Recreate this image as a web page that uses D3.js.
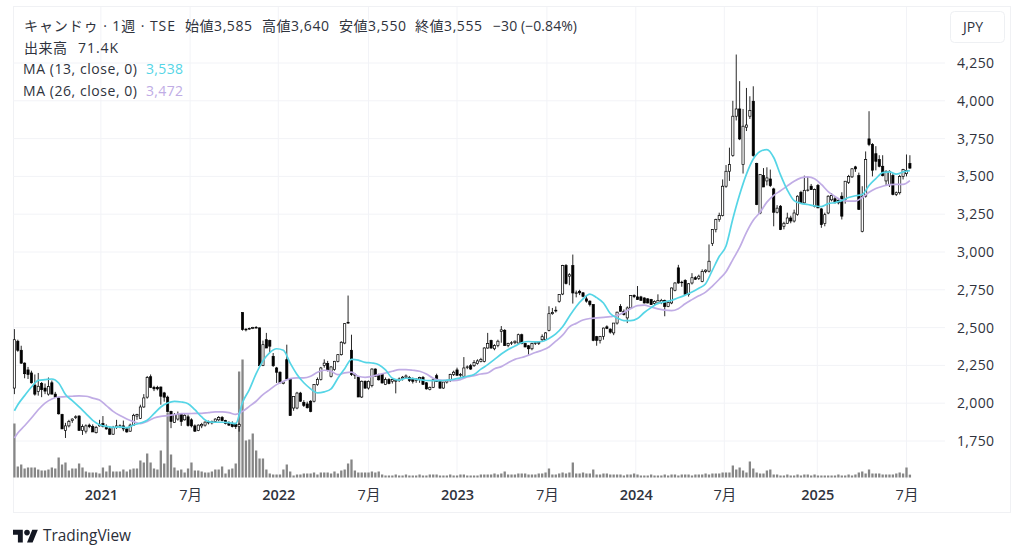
<!DOCTYPE html>
<html lang="ja"><head><meta charset="utf-8">
<script src="https://cdnjs.cloudflare.com/ajax/libs/d3/7.8.5/d3.min.js"></script>
<style>
html,body{margin:0;padding:0;background:#fff}
svg{display:block}
text{font-family:"Open Sans","Noto Sans CJK JP",sans-serif}
</style></head><body>
<svg id="c" width="1024" height="558"></svg>
<script>
const priceTicks=[1750,2000,2250,2500,2750,3000,3250,3500,3750,4000,4250];
const timeTickWeeks=[25.4,51.6,77.5,104,130,156.4,182.5,208.5,235.8,262];
const timeTickLabels=["2021","7月","2022","7月","2023","7月","2024","7月","2025","7月"];
const opens=[2100,2410,2350,2265,2220,2200,2120,2078,2130,2100,
2060,2135,2060,2035,1925,1820,1850,1885,1905,1915,
1820,1815,1855,1845,1805,1850,1865,1845,1830,1795,
1840,1850,1850,1830,1815,1855,1915,1900,1975,2040,
2175,2105,2105,2107,2068,2040,1946,1873,1895,1925,
1890,1910,1890,1850,1820,1850,1855,1875,1870,1880,
1890,1905,1885,1870,1860,1860,1845,2600,2490,2490,
2495,2500,2498,2250,2420,2414,2310,2233,2205,2130,
2288,2160,1968,1968,2067,2005,1995,2013,2013,2123,
2156,2250,2262,2178,2222,2277,2321,2398,2530,2350,
2190,2173,2041,2145,2100,2116,2226,2185,2189,2123,
2156,2145,2145,2150,2165,2172,2170,2160,2150,2160,
2170,2135,2090,2105,2182,2145,2100,2140,2155,2190,
2220,2185,2178,2238,2248,2248,2262,2275,2277,2365,
2414,2360,2381,2475,2482,2381,2400,2400,2398,2453,
2394,2380,2360,2395,2395,2420,2420,2482,2592,2610,
2674,2722,2910,2840,2910,2730,2740,2730,2690,2675,
2652,2440,2416,2442,2505,2490,2465,2530,2640,2608,
2564,2630,2712,2703,2703,2696,2690,2685,2660,2663,
2667,2680,2640,2663,2747,2895,2800,2812,2718,2795,
2830,2825,2806,2872,2873,3056,3148,3215,3241,3435,
3534,3638,3898,3946,3578,3825,3898,3997,3585,3258,
3505,3470,3483,3417,3263,3303,3170,3190,3225,3205,
3248,3395,3325,3408,3435,3303,3440,3285,3188,3258,
3345,3352,3342,3369,3347,3461,3497,3563,3505,3137,
3369,3748,3711,3650,3611,3567,3470,3446,3505,3380,
3392,3500,3518,3585];
const highs=[2490,2420,2380,2270,2240,2215,2190,2200,2140,2130,
2170,2150,2075,2040,1930,1870,1890,1900,1920,1920,
1860,1860,1865,1860,1850,1890,1915,1860,1845,1850,
1890,1860,1885,1835,1865,1930,1930,1990,2060,2180,
2190,2115,2115,2110,2075,2050,1950,1935,1945,1935,
1930,1925,1900,1860,1860,1870,1880,1885,1885,1900,
1915,1915,1890,1880,1880,1870,1870,2600,2495,2500,
2505,2510,2500,2414,2465,2420,2332,2240,2210,2145,
2387,2165,2045,2075,2075,2020,2010,2020,2125,2170,
2240,2290,2280,2245,2280,2325,2410,2530,2712,2453,
2200,2175,2150,2150,2150,2230,2230,2195,2195,2170,
2165,2160,2155,2170,2180,2190,2180,2170,2165,2175,
2180,2140,2110,2165,2195,2150,2140,2155,2195,2215,
2235,2200,2305,2250,2260,2285,2290,2300,2370,2465,
2420,2390,2420,2510,2490,2400,2410,2415,2460,2460,
2400,2385,2400,2405,2405,2455,2470,2641,2630,2640,
2720,2915,2920,2860,2983,2745,2750,2735,2710,2680,
2655,2445,2445,2500,2515,2495,2530,2605,2655,2620,
2640,2715,2720,2775,2710,2700,2695,2690,2680,2720,
2690,2685,2675,2765,2800,2915,2810,2820,2795,2860,
2840,2850,2885,2885,3050,3150,3220,3260,3480,3575,
3690,4000,4306,4130,3946,4085,4030,4096,3590,3512,
3555,3560,3545,3425,3310,3310,3200,3260,3240,3280,
3375,3405,3505,3500,3450,3420,3450,3290,3260,3375,
3390,3370,3350,3395,3470,3510,3555,3570,3525,3435,
3665,3931,3720,3700,3640,3640,3540,3540,3520,3400,
3510,3550,3645,3640];
const lows=[2060,2340,2260,2165,2160,2130,2050,2050,2040,2060,
2050,2060,2035,1925,1830,1770,1840,1870,1895,1820,
1790,1800,1835,1810,1800,1845,1840,1825,1790,1790,
1830,1835,1815,1805,1810,1850,1890,1895,1970,2030,
2100,2080,2085,1990,2010,1940,1835,1870,1885,1850,
1885,1845,1840,1810,1815,1835,1845,1860,1860,1870,
1880,1880,1860,1850,1840,1830,1812,2480,2475,2485,
2490,2495,2240,2245,2365,2332,2240,2134,2134,2125,
2160,1918,1950,1960,2010,1975,1965,1940,2005,2115,
2150,2235,2210,2170,2215,2270,2315,2390,2525,2180,
2160,2041,2035,2095,2090,2105,2175,2150,2130,2120,
2125,2130,2065,2140,2150,2165,2140,2130,2135,2135,
2120,2090,2085,2100,2140,2095,2095,2130,2140,2180,
2180,2175,2170,2225,2220,2240,2255,2270,2270,2360,
2360,2350,2370,2400,2381,2370,2385,2390,2390,2390,
2370,2320,2350,2385,2385,2410,2415,2475,2585,2600,
2665,2715,2785,2780,2659,2700,2715,2700,2665,2640,
2410,2380,2395,2420,2490,2460,2450,2520,2605,2580,
2530,2625,2695,2685,2680,2660,2660,2650,2650,2655,
2655,2575,2635,2655,2740,2790,2770,2715,2705,2785,
2815,2815,2800,2860,2865,3040,3130,3200,3235,3425,
3470,3630,3870,3740,3519,3800,3880,3630,3310,3250,
3430,3440,3430,3170,3255,3145,3150,3185,3190,3195,
3240,3320,3315,3400,3410,3295,3290,3160,3170,3250,
3335,3320,3315,3215,3320,3450,3490,3530,3280,3130,
3360,3700,3500,3540,3560,3500,3440,3430,3375,3370,
3380,3480,3500,3550];
const closes=[2420,2350,2265,2195,2190,2135,2060,2112,2090,2080,
2110,2060,2040,1930,1830,1850,1880,1895,1910,1820,
1845,1850,1845,1810,1840,1860,1845,1830,1795,1840,
1850,1845,1830,1810,1855,1920,1925,1975,2035,2170,
2105,2095,2095,2046,2040,1946,1880,1925,1925,1880,
1920,1852,1850,1815,1855,1860,1875,1870,1880,1895,
1905,1885,1865,1855,1845,1845,1860,2487,2485,2495,
2500,2500,2248,2387,2365,2377,2248,2205,2134,2140,
2160,1918,2045,2067,2013,1985,1970,1946,2123,2156,
2233,2265,2218,2240,2277,2321,2403,2526,2535,2189,
2185,2041,2145,2100,2145,2226,2178,2155,2134,2156,
2130,2156,2150,2160,2172,2180,2150,2145,2160,2170,
2125,2095,2105,2155,2145,2100,2140,2150,2190,2205,
2185,2190,2233,2240,2226,2270,2280,2290,2365,2395,
2365,2381,2410,2485,2381,2395,2400,2410,2453,2394,
2372,2360,2394,2400,2403,2440,2465,2592,2600,2615,
2718,2910,2791,2850,2729,2730,2730,2707,2675,2652,
2416,2416,2442,2497,2495,2470,2530,2602,2608,2586,
2630,2712,2705,2685,2680,2663,2663,2652,2672,2680,
2680,2640,2667,2762,2795,2795,2800,2718,2790,2830,
2820,2840,2872,2880,2939,3148,3215,3241,3435,3534,
3578,3898,3946,3748,3832,3840,3935,3638,3314,3512,
3430,3490,3439,3263,3290,3148,3190,3225,3205,3258,
3369,3325,3408,3410,3413,3413,3292,3181,3247,3369,
3373,3330,3325,3237,3468,3500,3550,3550,3281,3369,
3611,3711,3541,3600,3567,3505,3534,3534,3380,3392,
3500,3545,3540,3555];
const volumes=[1350,275,325,225,250,250,250,200,175,175,200,250,225,500,325,375,175,225,225,350,250,150,125,125,125,100,250,150,300,150,150,150,200,150,200,225,225,425,375,600,375,225,200,675,350,1625,575,250,175,200,125,225,375,175,175,150,125,125,150,200,200,275,100,200,225,350,2650,
2950,925,950,1100,675,475,475,200,100,75,75,75,200,325,150,50,75,75,100,100,100,125,75,125,125,125,100,150,100,175,200,350,450,175,125,125,125,125,150,125,150,75,
50,50,50,75,50,50,75,50,50,50,75,50,50,75,75,75,50,50,50,75,50,50,75,75,50,50,50,50,75,75,75,75,100,75,100,
150,75,75,75,100,100,100,75,75,75,100,100,125,225,75,75,100,125,100,125,375,100,100,125,100,100,200,75,75,100,100,75,75,75,75,50,75,75,100,75,50,50,50,75,50,50,50,75,50,75,75,50,75,75,75,50,75,75,75,100,75,100,100,100,125,125,125,
300,200,250,175,125,400,225,125,100,100,175,200,75,75,50,50,75,50,50,75,50,75,75,50,75,50,50,50,50,50,50,75,50,50,75,50,75,125,150,100,200,100,100,100,75,75,75,75,100,125,100,250,71.4];
// moving averages, one reading every second week
const maWeeks=[0,1,3,5,7,9,11,13,15,17,19,21,23,25,27,29,31,33,35,37,39,41,43,45,47,49,51,53,55,57,59,61,63,65,
67,69,71,73,75,77,79,81,83,85,87,89,91,93,95,97,99,101,103,105,107,109,111,113,115,117,119,121,123,125,127,129,131,133,135,137,139,
141,143,145,147,149,151,153,155,157,159,161,163,165,167,169,171,173,175,177,179,181,183,185,187,189,191,193,195,197,199,201,203,
205,207,209,211,213,215,217,219,221,223,225,227,229,231,233,235,237,239,241,243,245,247,249,251,253,255,257,259,261,263];
const ma13=[1950,1990,2050,2107,2151,2156,2160,2134,2057,2017,1975,1931,1887,1858,1847,1840,1843,1838,1856,1869,1887,1931,1975,2001,2012,2008,1997,1957,1909,1878,1874,1874,1871,1865,
2005,2090,2195,2280,2335,2360,2350,2265,2190,2135,2095,2068,2075,2095,2165,2228,2290,2285,2270,2266,2255,2220,2165,2153,2165,2162,2156,2150,2149,2149,2152,2158,2168,2178,2190,2225,2255,
2290,2325,2355,2378,2400,2408,2405,2408,2428,2458,2505,2575,2640,2690,2722,2698,2663,2593,2564,2546,2546,2560,2600,2632,2660,2670,2680,2697,2715,2735,2760,2790,
2880,2970,3040,3220,3380,3515,3615,3665,3677,3625,3510,3410,3340,3322,3314,3305,3300,3320,3327,3340,3360,3372,3380,3440,3485,3525,3530,3515,3530,3538];
const ma26=[1770,1803,1851,1902,1957,2001,2028,2041,2043,2046,2048,2046,2034,2021,1984,1946,1918,1896,1878,1865,1880,1902,1913,1918,1924,1931,1931,1933,1933,1938,1942,1942,1938,1926,
1946,1979,2013,2057,2090,2123,2145,2163,2167,2167,2178,2205,2218,2211,2189,2200,2205,2178,2171,2178,2189,2200,2211,2222,2222,2218,2211,2193,2165,2152,2150,2149,2156,2173,2182,2193,2200,
2228,2242,2268,2290,2302,2318,2335,2350,2372,2410,2450,2505,2528,2550,2560,2564,2568,2572,2580,2600,2625,2645,2648,2636,2624,2615,2612,2625,2658,2685,2710,2735,
2775,2820,2870,2950,3030,3130,3210,3263,3330,3375,3405,3437,3468,3490,3497,3485,3447,3400,3368,3342,3336,3336,3360,3395,3420,3435,3445,3447,3447,3472];
// legend wording
const legendName="キャンドゥ · 1週 · TSE";
const legendOHLC=["始値3,585","高値3,640","安値3,550","終値3,555"];
const legendChange="−30 (−0.84%)";
const volLabel="出来高", volValue="71.4K";
const maNames=["MA (13, close, 0)","MA (26, close, 0)"], maValues=["3,538","3,472"];

const svg=d3.select("#c");
const x=d3.scaleLinear().domain([0,263]).range([14.4,909.9]);
const y=d3.scaleLinear().domain([1750,4250]).range([441,63]);
const v=d3.scaleLinear().domain([0,2950]).range([477.5,359.5]);
const grid="#f2f3f7", ink="#2f333d", up="#fff", dn="#000", wick="#000", cyan="#55d5e6", lilac="#c0ace5";

// frame
svg.append("rect").attr("x",13.5).attr("y",6.5).attr("width",997).attr("height",506).attr("fill","none").attr("stroke","#f0f1f4");
// grid
svg.append("g").selectAll("line").data(priceTicks).join("line")
 .attr("x1",13).attr("x2",945).attr("y1",d=>y(d)).attr("y2",d=>y(d)).attr("stroke",grid);
svg.append("g").selectAll("line").data(timeTickWeeks).join("line")
 .attr("x1",d=>x(d)).attr("x2",d=>x(d)).attr("y1",7).attr("y2",479).attr("stroke",grid);
// volume
svg.append("g").selectAll("rect").data(volumes).join("rect")
 .attr("x",(d,i)=>x(i)-1.15).attr("width",2.3).attr("y",d=>v(d)).attr("height",d=>v(0)-v(d)).attr("fill","#868686");
// candles
const idx=d3.range(opens.length);
svg.append("g").selectAll("line").data(idx).join("line")
 .attr("x1",i=>x(i)).attr("x2",i=>x(i)).attr("y1",i=>y(highs[i])).attr("y2",i=>y(lows[i]))
 .attr("stroke",wick).attr("stroke-width",0.85);
svg.append("g").selectAll("rect").data(idx).join("rect")
 .attr("x",i=>x(i)-1.1).attr("width",2.2)
 .attr("y",i=>y(Math.max(opens[i],closes[i])))
 .attr("height",i=>Math.max(0.5,Math.abs(y(opens[i])-y(closes[i]))))
 .attr("fill",i=>closes[i]>=opens[i]?up:dn).attr("stroke","#000").attr("stroke-width",0.7);
// moving averages
const lineOf=s=>d3.line().x((d,k)=>x(maWeeks[k])).y(d=>y(d)).curve(d3.curveMonotoneX)(s);
svg.append("path").attr("d",lineOf(ma26)).attr("fill","none").attr("stroke",lilac).attr("stroke-width",1.7);
svg.append("path").attr("d",lineOf(ma13)).attr("fill","none").attr("stroke",cyan).attr("stroke-width",1.7);
// axes
const yAxis=d3.axisRight(y).tickValues(priceTicks).tickFormat(d3.format(",")).tickSize(0).tickPadding(13);
const ga=svg.append("g").attr("transform","translate(944,0)").call(yAxis);
ga.select(".domain").remove();
ga.selectAll("text").attr("font-size",14).attr("letter-spacing",0.35).attr("fill",ink).style("font-family",'"Open Sans",sans-serif');
const xAxis=d3.axisBottom(x).tickValues(timeTickWeeks).tickFormat((d,i)=>timeTickLabels[i]).tickSize(0).tickPadding(11);
const gb=svg.append("g").attr("transform","translate(0,479)").call(xAxis);
gb.select(".domain").remove();
gb.selectAll("text").attr("font-size",14.5).attr("fill",ink)
 .attr("font-weight",(d,i)=>/月/.test(timeTickLabels[i])?400:600);
// currency button
svg.append("rect").attr("x",950.5).attr("y",11.5).attr("width",54).attr("height",31).attr("rx",4).attr("fill","#fff").attr("stroke","#eef0f3");
svg.append("text").attr("x",973).attr("y",32).attr("text-anchor","middle").attr("font-size",14).attr("fill",ink).text("JPY");
// legend: each piece fitted to the width it has in the picture
const put=(s,xp,w,yp,c)=>svg.append("text").attr("x",xp).attr("y",yp).attr("font-size",14).attr("fill",c||ink)
 .attr("textLength",w).attr("lengthAdjust","spacing").text(s);
put(legendName,24,151,31);
legendOHLC.forEach((s,i)=>put(s,[185,262,339,415][i],[67,67,67,67][i],31));
put(legendChange,493,84,31);
put(volLabel,24,43,53);
put(volValue,78,40,53);
maNames.forEach((s,i)=>put(s,23,114,74+22*i));
maValues.forEach((s,i)=>put(s,146,37,74+22*i,[cyan,lilac][i]));
// TradingView mark
svg.append("path").attr("transform","translate(13,527) scale(0.7)")
 .attr("d","M14 22H7V11H0V4h14v18zM28 22h-8l7.5-18h8L28 22z").attr("fill","#131722");
svg.append("circle").attr("cx",13+20*0.7).attr("cy",527+8*0.7).attr("r",2.8).attr("fill","#131722");
svg.append("text").attr("x",43).attr("y",541).attr("font-size",16).attr("fill","#2a2e39").attr("textLength",88).attr("lengthAdjust","spacingAndGlyphs").text("TradingView");
</script>
</body></html>
